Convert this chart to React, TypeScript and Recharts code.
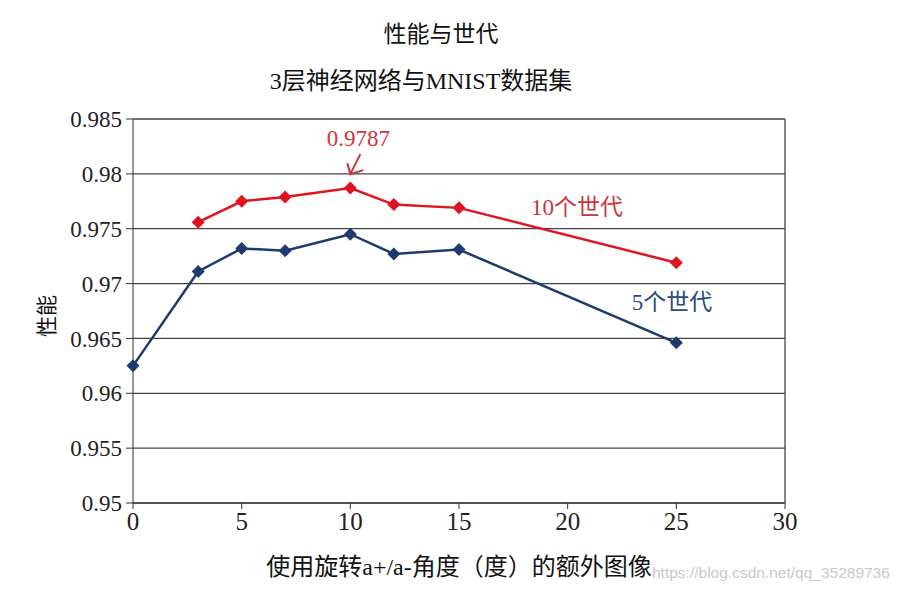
import React from "react";
import {
  LineChart,
  Line,
  XAxis,
  YAxis,
  CartesianGrid,
  ReferenceLine,
  ReferenceDot,
} from "recharts";

// 5 epochs (blue)
const angles5 = [0, 3, 5, 7, 10, 12, 15, 25];
const perf5 = [0.9625, 0.9711, 0.9732, 0.973, 0.9745, 0.9727, 0.9731, 0.9646];

// 10 epochs (red)
const angles10 = [3, 5, 7, 10, 12, 15, 25];
const perf10 = [0.9756, 0.9775, 0.9779, 0.9787, 0.9772, 0.9769, 0.9719];

const xTicks = [0, 5, 10, 15, 20, 25, 30];
const yTicks = [0.95, 0.955, 0.96, 0.965, 0.97, 0.975, 0.98, 0.985];

const peakX = 10;
const peakY = 0.9787;
const label10 = { x: 20.43, y: 0.97625, text: "10个世代" };
const label5 = { x: 24.8, y: 0.96759, text: "5个世代" };

const RED = "#e0141e";
const BLUE = "#1f3a6e";
const SERIF = '"Liberation Serif", "Noto Sans CJK SC", serif';

const data5 = angles5.map((x, i) => ({ x, y: perf5[i] }));
const data10 = angles10.map((x, i) => ({ x, y: perf10[i] }));

function Diamond(color: string) {
  return (props: any) => {
    const { cx, cy } = props;
    if (cx == null || cy == null) return <g key={props.key} />;
    const r = 6.5;
    return (
      <polygon
        key={props.key}
        points={`${cx},${cy - r} ${cx + r},${cy} ${cx},${cy + r} ${cx - r},${cy}`}
        fill={color}
      />
    );
  };
}

export default function App() {
  return (
    <div
      style={{
        position: "absolute",
        left: 0,
        top: 0,
        width: 897,
        height: 592,
        background: "#fff",
        fontFamily: SERIF,
      }}
    >
      <div
        style={{
          position: "absolute",
          top: 15,
          left: 0,
          width: 882,
          textAlign: "center",
          fontSize: 23,
          color: "#111",
        }}
      >
        性能与世代
      </div>
      <div
        style={{
          position: "absolute",
          top: 61,
          left: 0,
          width: 842,
          textAlign: "center",
          fontSize: 24,
          color: "#111",
        }}
      >
        3层神经网络与MNIST数据集
      </div>
      <LineChart
        width={897}
        height={592}
        margin={{ top: 119, right: 112, left: 20, bottom: 29 }}
      >
        <CartesianGrid vertical={false} stroke="#444" strokeWidth={1.3} />
        <XAxis
          dataKey="x"
          type="number"
          domain={[0, 30]}
          ticks={xTicks}
          height={60}
          stroke="#333"
          tickLine={{ stroke: "#333" }}
          tickSize={6}
          tickMargin={3}
          tick={{ fill: "#222", fontSize: 25, fontFamily: SERIF }}
          label={{
            content: (p: any) => {
              const vb = p.viewBox;
              return (
                <text
                  x={vb.x + vb.width / 2 + 0}
                  y={vb.y + 72}
                  textAnchor="middle"
                  fontSize={24}
                  fontFamily={SERIF}
                  fill="#111"
                >
                  使用旋转a+/a-角度（度）的额外图像
                </text>
              );
            },
          }}
        />
        <YAxis
          type="number"
          domain={[0.95, 0.985]}
          ticks={yTicks}
          width={113}
          stroke="#333"
          tickSize={7}
          tickMargin={4}
          tickFormatter={(v) => String(v)}
          tick={{ fill: "#222", fontSize: 23, fontFamily: SERIF }}
          label={{
            content: (p: any) => {
              const vb = p.viewBox;
              const cx = vb.x + 27;
              const cy = vb.y + vb.height / 2 + 5;
              return (
                <text
                  x={cx}
                  y={cy}
                  textAnchor="middle"
                  dominantBaseline="central"
                  transform={`rotate(-90 ${cx} ${cy})`}
                  fontSize={21}
                  fontFamily={SERIF}
                  fill="#111"
                >
                  性能
                </text>
              );
            },
          }}
        />
        <ReferenceLine x={30} stroke="#444" strokeWidth={1.3} />
        <Line
          data={data5}
          dataKey="y"
          stroke={BLUE}
          strokeWidth={2.5}
          dot={Diamond(BLUE)}
          activeDot={false}
          isAnimationActive={false}
        />
        <Line
          data={data10}
          dataKey="y"
          stroke={RED}
          strokeWidth={2.5}
          dot={Diamond(RED)}
          activeDot={false}
          isAnimationActive={false}
        />
        <ReferenceDot
          x={peakX}
          y={peakY}
          r={0}
          shape={(p: any) => (
            <g>
              <text
                x={p.cx + 8}
                y={p.cy - 42}
                textAnchor="middle"
                fontSize={23}
                fontFamily={SERIF}
                fill="#c8383a"
              >
                {String(peakY)}
              </text>
              <path
                d={`M${p.cx + 10},${p.cy - 34} L${p.cx},${p.cy - 14} M${p.cx - 3},${p.cy - 25} L${p.cx},${p.cy - 14} L${p.cx + 13},${p.cy - 18}`}
                stroke="#c8383a"
                strokeWidth={2}
                fill="none"
              />
            </g>
          )}
        />
        <ReferenceDot
          x={label10.x}
          y={label10.y}
          r={0}
          shape={(p: any) => (
            <text
              x={p.cx}
              y={p.cy}
              textAnchor="middle"
              fontSize={23}
              fontFamily={SERIF}
              fill="#c8383a"
            >
              {label10.text}
            </text>
          )}
        />
        <ReferenceDot
          x={label5.x}
          y={label5.y}
          r={0}
          shape={(p: any) => (
            <text
              x={p.cx}
              y={p.cy}
              textAnchor="middle"
              fontSize={23}
              fontFamily={SERIF}
              fill="#2c4a80"
            >
              {label5.text}
            </text>
          )}
        />
      </LineChart>
      <div
        style={{
          position: "absolute",
          left: 652,
          top: 564,
          fontSize: 15.5,
          fontFamily: '"Liberation Sans", sans-serif',
          color: "#c8c8c8",
        }}
      >
        https://blog.csdn.net/qq_35289736
      </div>
    </div>
  );
}
